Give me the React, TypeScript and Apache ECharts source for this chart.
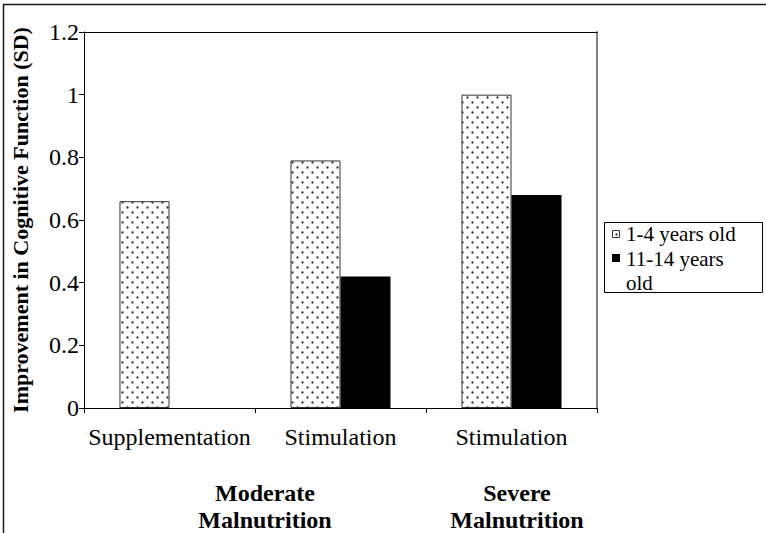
import React, { useEffect, useRef } from "react";
import * as echarts from "echarts";

const categories = ["Supplementation", "Stimulation", "Stimulation"];
const groupLabels = ["Moderate\nMalnutrition", "Severe\nMalnutrition"];
const seriesNames = ["1-4 years old", "11-14 years old"];
const legendLabels = ["1-4 years old", "11-14 years\nold"];
const young = [0.66, 0.79, 1.0];
const older: (number | null)[] = [null, 0.42, 0.68];
const yMin = 0;
const yMax = 1.2;
const yInterval = 0.2;
const yTitle = "Improvement in Cognitive Function (SD)";

const FONT = "Liberation Serif";

function makeDots(): HTMLCanvasElement {
  const c = document.createElement("canvas");
  c.width = 10;
  c.height = 10;
  const g = c.getContext("2d")!;
  g.fillStyle = "#ffffff";
  g.fillRect(0, 0, 10, 10);
  g.fillStyle = "#333333";
  g.beginPath();
  g.arc(2.5, 2.5, 1.15, 0, Math.PI * 2);
  g.fill();
  g.beginPath();
  g.arc(7.5, 7.5, 1.15, 0, Math.PI * 2);
  g.fill();
  return c;
}

export default function App() {
  const ref = useRef<HTMLDivElement>(null);
  useEffect(() => {
    if (!ref.current) return;
    const chart = echarts.init(ref.current, null, { renderer: "svg" });
    const dots = makeDots();
    const pattern: any = { image: dots, repeat: "repeat" };
    const option: any = {
      animation: false,
      backgroundColor: "#ffffff",
      textStyle: { fontFamily: FONT },
      grid: { left: 84, right: 169, top: 32, bottom: 125, containLabel: false },
      xAxis: [
        {
          type: "category",
          data: categories,
          axisLine: { onZero: false, lineStyle: { color: "#000", width: 1 } },
          axisTick: { show: true, length: 5, lineStyle: { color: "#000" } },
          axisLabel: { color: "#000", fontFamily: FONT, fontSize: 24, margin: 17, interval: 0 },
        },
        {
          type: "category",
          position: "top",
          data: categories,
          axisLine: { show: true, onZero: false, lineStyle: { color: "#000", width: 1 } },
          axisTick: { show: false },
          axisLabel: { show: false },
        },
      ],
      yAxis: [
        {
          type: "value",
          min: yMin,
          max: yMax,
          interval: yInterval,
          name: yTitle,
          nameLocation: "middle",
          nameRotate: 90,
          nameGap: 53,
          nameTextStyle: { color: "#000", fontFamily: FONT, fontSize: 22, fontWeight: "bold" },
          axisLine: { show: true, lineStyle: { color: "#000", width: 1 } },
          axisTick: { show: true, length: 5, lineStyle: { color: "#000" } },
          axisLabel: { color: "#000", fontFamily: FONT, fontSize: 24, margin: 5, padding: [7, 0, 0, 0] },
          splitLine: { show: false },
        },
        {
          type: "value",
          position: "right",
          min: yMin,
          max: yMax,
          interval: yInterval,
          axisLine: { show: true, onZero: false, lineStyle: { color: "#808080", width: 2 } },
          axisTick: { show: false },
          axisLabel: { show: false },
          splitLine: { show: false },
        },
      ],
      series: [
        {
          name: seriesNames[0],
          type: "bar",
          data: young,
          barGap: "0%",
          barCategoryGap: "41.5%",
          itemStyle: { color: pattern, borderColor: "#333", borderWidth: 1 },
        },
        {
          name: seriesNames[1],
          type: "bar",
          data: older,
          barGap: "0%",
          barCategoryGap: "41.5%",
          itemStyle: { color: "#000" },
        },
      ],
      graphic: [
        {
          type: "rect",
          shape: { x: 3.5, y: 4.5, width: 900, height: 700 },
          style: { fill: "none", stroke: "#1a1a1a", lineWidth: 1.5 },
          silent: true,
        },
        {
          type: "text",
          x: 265,
          y: 506,
          style: {
            text: groupLabels[0],
            fontFamily: FONT,
            fontSize: 24,
            fontWeight: "bold",
            fill: "#000",
            align: "center",
            verticalAlign: "middle",
            lineHeight: 27,
          },
        },
        {
          type: "text",
          x: 517,
          y: 506,
          style: {
            text: groupLabels[1],
            fontFamily: FONT,
            fontSize: 24,
            fontWeight: "bold",
            fill: "#000",
            align: "center",
            verticalAlign: "middle",
            lineHeight: 27,
          },
        },
        {
          type: "group",
          left: 604,
          top: 222,
          children: [
            {
              type: "rect",
              shape: { x: 0.5, y: 0.5, width: 158, height: 70 },
              style: { fill: "#fff", stroke: "#000", lineWidth: 1 },
            },
            {
              type: "rect",
              shape: { x: 8.5, y: 8.5, width: 7, height: 7 },
              style: { fill: pattern, stroke: "#333", lineWidth: 1 },
            },
            {
              type: "text",
              x: 22,
              y: 0,
              style: {
                text: legendLabels[0],
                fontFamily: FONT,
                fontSize: 21,
                fill: "#000",
                verticalAlign: "top",
                lineHeight: 24.5,
              },
            },
            {
              type: "rect",
              shape: { x: 8, y: 32, width: 8, height: 8 },
              style: { fill: "#000" },
            },
            {
              type: "text",
              x: 22,
              y: 24.5,
              style: {
                text: legendLabels[1],
                fontFamily: FONT,
                fontSize: 21,
                fill: "#000",
                verticalAlign: "top",
                lineHeight: 24.5,
              },
            },
          ],
        },
      ],
    };
    chart.setOption(option);
    return () => chart.dispose();
  }, []);
  return (
    <div
      ref={ref}
      style={{ position: "fixed", left: 0, top: 0, width: 766, height: 533, background: "#fff" }}
    />
  );
}
